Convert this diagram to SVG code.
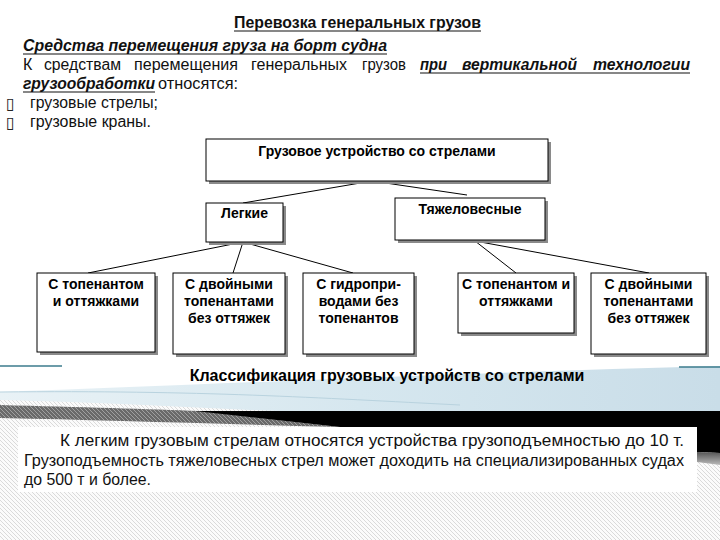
<svg xmlns="http://www.w3.org/2000/svg" width="720" height="540" viewBox="0 0 720 540">
<defs>
<style>
.hd{font-family:"Liberation Sans Narrow","Liberation Sans",Arial,sans-serif;font-size:16px;fill:#111}
.b{font-weight:bold}
.i{font-style:italic}
.bl{font-family:"DejaVu Sans",sans-serif;font-size:16px;fill:#222}
.nd{font-family:"Liberation Sans",Arial,sans-serif;font-size:14px;font-weight:bold;fill:#000;text-anchor:middle}
.box{fill:#fff;stroke:#000;stroke-width:1}
.sh{fill:#8a8a8a}
.ul{stroke:#111;stroke-width:1.2}
.cn{stroke:#000;stroke-width:1;fill:none}
.teal{stroke:#3b7b8c;stroke-width:1.5}
</style>
<pattern id="hatch" patternUnits="userSpaceOnUse" width="4" height="4">
<rect width="4" height="4" fill="#fbfbfb"/>
<path d="M-1,-1 L5,5 M-1,3 L1,5 M3,-1 L5,1" stroke="#dadada" stroke-width="1"/>
</pattern>
<pattern id="darkhatch" patternUnits="userSpaceOnUse" width="4" height="4">
<rect width="4" height="4" fill="#6a6a6a"/>
<path d="M-1,-1 L5,5 M-1,3 L1,5 M3,-1 L5,1" stroke="#a0a0a0" stroke-width="1"/>
</pattern>
<linearGradient id="blue" x1="0" y1="0" x2="1" y2="0">
<stop offset="0" stop-color="#e9f2f6"/>
<stop offset="0.5" stop-color="#d6e7ef"/>
<stop offset="1" stop-color="#c9dde8"/>
</linearGradient>
<linearGradient id="greyg" x1="0" y1="0" x2="0" y2="1">
<stop offset="0" stop-color="#555"/>
<stop offset="1" stop-color="#bbb"/>
</linearGradient>
</defs>
<rect width="720" height="540" fill="#fff"/>

<!-- decorative band and background -->
<g id="background">
<rect x="0" y="395" width="720" height="145" fill="url(#hatch)"/>
<path d="M0,392 C200,385 450,373 720,366 L720,412 L300,412 C200,408 100,402 0,400 Z" fill="url(#blue)"/>
<path d="M0,392 C200,390 320,398 460,405" stroke="#b9d3df" stroke-width="1" fill="none"/>
<path d="M0,405 C80,407 150,409 200,411 L340,427 C220,424 100,420 0,418 Z" fill="url(#darkhatch)"/>
<path d="M195,411 L720,411 L720,453 L697,452 L697,428 L340,427 Z" fill="#000"/>
<path d="M697,452 L720,453 L720,465 L697,462 Z" fill="url(#greyg)"/>
<line class="teal" x1="0" y1="366" x2="62" y2="366"/>
<line class="teal" x1="679" y1="367" x2="720" y2="367"/>
</g>

<!-- header text -->
<g id="header">
<text class="hd b" x="234" y="28" textLength="247" lengthAdjust="spacingAndGlyphs">Перевозка генеральных грузов</text>
<line class="ul" x1="234" y1="31" x2="481" y2="31"/>
<text class="hd b i" x="23" y="51" textLength="364" lengthAdjust="spacingAndGlyphs">Средства перемещения груза на борт судна</text>
<line class="ul" x1="23" y1="54" x2="387" y2="54"/>
<text class="hd" x="23" y="70">К</text>
<text class="hd" x="44" y="70" textLength="77" lengthAdjust="spacingAndGlyphs">средствам</text>
<text class="hd" x="134" y="70" textLength="104" lengthAdjust="spacingAndGlyphs">перемещения</text>
<text class="hd" x="251" y="70" textLength="96" lengthAdjust="spacingAndGlyphs">генеральных</text>
<text class="hd" x="362" y="70" textLength="44" lengthAdjust="spacingAndGlyphs">грузов</text>
<text class="hd b i" x="420" y="70" textLength="27" lengthAdjust="spacingAndGlyphs">при</text>
<text class="hd b i" x="462" y="70" textLength="115" lengthAdjust="spacingAndGlyphs">вертикальной</text>
<text class="hd b i" x="593" y="70" textLength="97" lengthAdjust="spacingAndGlyphs">технологии</text>
<line class="ul" x1="420" y1="73" x2="690" y2="73"/>
<text class="hd b i" x="23" y="89" textLength="132" lengthAdjust="spacingAndGlyphs">грузообработки</text>
<line class="ul" x1="23" y1="92" x2="155" y2="92"/>
<text class="hd" x="158" y="89" textLength="80" lengthAdjust="spacingAndGlyphs">относятся:</text>
<text class="bl" x="6" y="109">▯</text>
<text class="hd" x="30" y="108" textLength="128" lengthAdjust="spacingAndGlyphs">грузовые стрелы;</text>
<text class="bl" x="6" y="128">▯</text>
<text class="hd" x="30" y="127" textLength="121" lengthAdjust="spacingAndGlyphs">грузовые краны.</text>
</g>

<!-- connectors -->
<g id="connectors">
<line class="cn" x1="372" y1="181" x2="243" y2="203"/>
<line class="cn" x1="372" y1="181" x2="467" y2="195"/>
<line class="cn" x1="243" y1="242" x2="88" y2="273"/>
<line class="cn" x1="243" y1="242" x2="233" y2="273"/>
<line class="cn" x1="243" y1="242" x2="353" y2="273"/>
<line class="cn" x1="475" y1="241" x2="516" y2="273"/>
<line class="cn" x1="475" y1="241" x2="649" y2="273"/>
</g>

<!-- nodes -->
<g id="node-root">
<rect class="sh" x="209" y="142" width="342" height="42"/>
<rect class="box" x="206" y="139" width="342" height="42"/>
<text class="nd" x="377" y="156">Грузовое устройство со стрелами</text>
</g>
<g id="node-light">
<rect class="sh" x="209" y="206" width="77" height="39"/>
<rect class="box" x="206" y="203" width="77" height="39"/>
<text class="nd" x="244.5" y="218">Легкие</text>
</g>
<g id="node-heavy">
<rect class="sh" x="398" y="201" width="150" height="42"/>
<rect class="box" x="395" y="198" width="150" height="42"/>
<text class="nd" x="470" y="214">Тяжеловесные</text>
</g>
<g id="node-l1">
<rect class="sh" x="40" y="276" width="118" height="79"/>
<rect class="box" x="37" y="273" width="118" height="79"/>
<text class="nd" x="96" y="289">С топенантом</text>
<text class="nd" x="96" y="306">и оттяжками</text>
</g>
<g id="node-l2">
<rect class="sh" x="176" y="276" width="112" height="81"/>
<rect class="box" x="173" y="273" width="112" height="81"/>
<text class="nd" x="229" y="289">С двойными</text>
<text class="nd" x="229" y="306">топенантами</text>
<text class="nd" x="229" y="323">без оттяжек</text>
</g>
<g id="node-l3">
<rect class="sh" x="306" y="276" width="111" height="81"/>
<rect class="box" x="303" y="273" width="111" height="81"/>
<text class="nd" x="358.5" y="289">С гидропри-</text>
<text class="nd" x="358.5" y="306">водами без</text>
<text class="nd" x="358.5" y="323">топенантов</text>
</g>
<g id="node-h1">
<rect class="sh" x="461" y="276" width="116" height="60"/>
<rect class="box" x="458" y="273" width="116" height="60"/>
<text class="nd" x="516" y="289">С топенантом и</text>
<text class="nd" x="516" y="306">оттяжками</text>
</g>
<g id="node-h2">
<rect class="sh" x="594" y="276" width="115" height="81"/>
<rect class="box" x="591" y="273" width="115" height="81"/>
<text class="nd" x="648.5" y="289">С двойными</text>
<text class="nd" x="648.5" y="306">топенантами</text>
<text class="nd" x="648.5" y="323">без оттяжек</text>
</g>

<g id="caption">
<text x="387" y="381" font-family="'Liberation Sans',Arial,sans-serif" font-size="16" font-weight="bold" text-anchor="middle" fill="#000">Классификация грузовых устройств со стрелами</text>
</g>

<g id="note">
<rect x="18" y="427" width="679" height="65" fill="#fff"/>
<text class="hd" x="60" y="446" textLength="624" lengthAdjust="spacingAndGlyphs">К легким грузовым стрелам относятся устройства грузоподъемностью до 10 т.</text>
<text class="hd" x="24" y="466" textLength="660" lengthAdjust="spacingAndGlyphs">Грузоподъемность тяжеловесных стрел может доходить на специализированных судах</text>
<text class="hd" x="24" y="485" textLength="127" lengthAdjust="spacingAndGlyphs">до 500 т и более.</text>
</g>
</svg>
